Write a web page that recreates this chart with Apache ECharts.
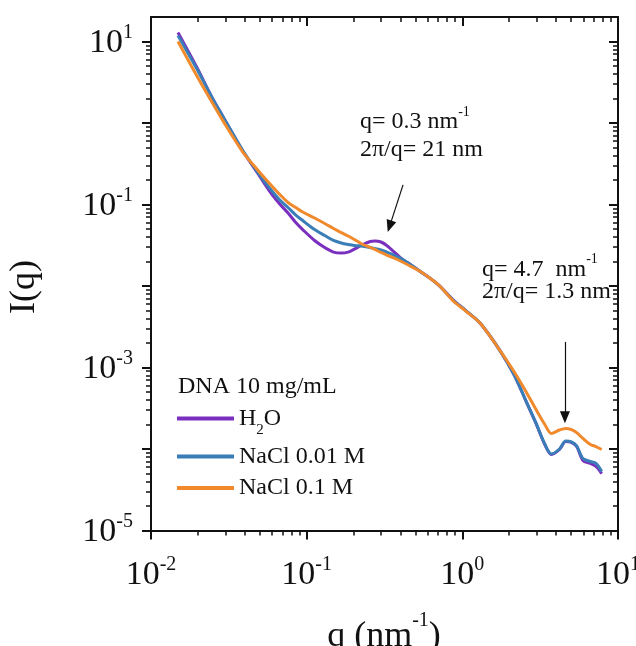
<!DOCTYPE html>
<html>
<head>
<meta charset="utf-8">
<script src="https://cdn.jsdelivr.net/npm/echarts@6/dist/echarts.min.js"></script>
<style>
  html, body { margin: 0; padding: 0; background: #ffffff; }
  #chart { width: 636px; height: 646px; }
</style>
</head>
<body>
<div id="chart"></div>
<script>
// Scattering vector q (nm^-1), shared by all three curves
const q = [0.0149, 0.0198, 0.0245, 0.0292, 0.0387, 0.0481, 0.0574, 0.0667, 0.0759, 0.0851,
  0.0943, 0.1124, 0.1306, 0.1487, 0.1667, 0.1849, 0.2027, 0.2296, 0.2562, 0.2737,
  0.3004, 0.3269, 0.3622, 0.4059, 0.4495, 0.5369, 0.6234, 0.7101, 0.8816, 1.052,
  1.307, 1.729, 2.147, 2.561, 2.974, 3.388, 3.735, 4.206, 4.616, 5.023,
  5.425, 5.955, 6.645, 7.219, 7.857];

// Scattered intensity I(q) for DNA 10 mg/mL
const iH2O = [12.9, 4.73, 2.11, 1.17, 0.460, 0.247, 0.1485, 0.1028, 0.0787, 0.0601,
  0.0493, 0.0362, 0.0297, 0.0261, 0.0254, 0.0261, 0.0284, 0.0323, 0.0352, 0.0357,
  0.0347, 0.0314, 0.0265, 0.0217, 0.0191, 0.01507, 0.01236, 0.01014, 0.00664, 0.00500,
  0.00347, 0.00166, 0.00082, 0.000390, 0.000206, 0.0001135, 0.0000857, 0.0000986, 0.0001236, 0.0001202,
  0.0001073, 0.0000723, 0.0000664, 0.0000610, 0.0000500];

const iNaCl001 = [11.85, 4.53, 2.11, 1.17, 0.466, 0.254, 0.1617, 0.1152, 0.0919, 0.0743,
  0.0636, 0.0493, 0.0417, 0.0362, 0.0337, 0.0323, 0.0314, 0.0308, 0.0297, 0.0288,
  0.0277, 0.0261, 0.0240, 0.0217, 0.0191, 0.0151, 0.0124, 0.0101, 0.0066, 0.0050,
  0.00347, 0.00166, 0.00082, 0.00039, 0.000208, 0.000115, 0.0000870, 0.000100, 0.000125, 0.000122,
  0.000109, 0.0000764, 0.0000703, 0.0000664, 0.0000530];

const iNaCl01 = [10.0, 3.72, 1.84, 1.04, 0.447, 0.269, 0.1836, 0.1346, 0.1059, 0.0919,
  0.0809, 0.0683, 0.0585, 0.0508, 0.0453, 0.0411, 0.0372, 0.0323, 0.0297, 0.0281,
  0.0258, 0.0240, 0.0221, 0.0200, 0.0181, 0.01507, 0.01236, 0.01014, 0.00646, 0.00493,
  0.00347, 0.00166, 0.000893, 0.000508, 0.000305, 0.000200, 0.000155, 0.000171, 0.000179, 0.000173,
  0.000159, 0.0001346, 0.0001135, 0.0001073, 0.0000986];

const seriesNames = ['H2O', 'NaCl 0.01 M', 'NaCl 0.1 M'];
const seriesColors = ['#7b2fbf', '#3a7eb8', '#f08a2c'];

// Axis ticks and labels (decades)
const xLabelTicks = [0.01, 0.1, 1, 10];
const xMajorTicks = [0.01, 0.1, 1, 10];
const yLabelTicks = [10, 0.1, 0.001, 0.00001];
const yMajorTicks = [10, 1, 0.1, 0.01, 0.001, 0.0001, 0.00001];

// Peak annotations: arrow start / arrow head (q, I)
const peakArrows = [
  [[0.416, 0.174], [0.341, 0.054]],
  [[4.56, 0.00206], [4.56, 0.000245]]
];

function minorTicks(eLo, eHi) {
  const out = [];
  for (let e = eLo; e <= eHi; e++) {
    for (let k = 2; k <= 9; k++) out.push(+(k * Math.pow(10, e)).toPrecision(6));
  }
  return out;
}
const xMinorTicks = minorTicks(-2, 0);
const yMinorTicks = minorTicks(-5, 0);

const FONT = '"Liberation Serif", "Times New Roman", serif';
const INK = '#111111';

// "10" with a raised exponent
const powRich = {
  b: { fontFamily: FONT, fontSize: 34, lineHeight: 38, verticalAlign: 'bottom', color: INK },
  s: { fontFamily: FONT, fontSize: 20, lineHeight: 20, verticalAlign: 'top', color: INK }
};
const powLabel = v => '{b|10}{s|' + Math.round(Math.log10(v)) + '}';

function logAxis(dim, opts) {
  const isX = dim === 'x';
  return {
    type: 'log',
    logBase: 10,
    min: isX ? 0.01 : 0.00001,
    max: isX ? 10 : 20,
    position: opts.position,
    axisLine: { show: opts.line, onZero: false, lineStyle: { color: INK, width: 2 } },
    axisTick: {
      show: true,
      inside: opts.inside,
      length: opts.len,
      customValues: opts.ticks,
      lineStyle: { color: INK, width: opts.tickWidth }
    },
    axisLabel: opts.labels ? {
      show: true,
      customValues: opts.labels,
      formatter: powLabel,
      rich: powRich,
      margin: isX ? 24 : 18
    } : { show: false },
    splitLine: { show: false },
    minorTick: { show: false },
    minorSplitLine: { show: false }
  };
}

const supRich = {
  t: { fontFamily: FONT, fontSize: 24, lineHeight: 34, verticalAlign: 'middle', fill: INK },
  u: { fontFamily: FONT, fontSize: 14, lineHeight: 14, verticalAlign: 'top', fill: INK }
};

const chart = echarts.init(document.getElementById('chart'), null, { renderer: 'canvas' });

const legendRich = {
  n: { fontFamily: FONT, fontSize: 24, lineHeight: 39, verticalAlign: 'middle', color: INK },
  sub: { fontFamily: FONT, fontSize: 15, lineHeight: 15, verticalAlign: 'bottom', color: INK },
  p: { fontFamily: FONT, fontSize: 24, lineHeight: 24, color: INK }
};
const legendTops = [406.5, 444.5, 476];

chart.setOption({
  animation: false,
  backgroundColor: '#ffffff',
  textStyle: { fontFamily: FONT, color: INK },
  grid: { left: 151, right: 18, top: 17, bottom: 115.5, containLabel: false, outerBoundsMode: 'none' },
  xAxis: [
    logAxis('x', { position: 'bottom', line: true, inside: false, len: 9, tickWidth: 2, ticks: xMajorTicks, labels: xLabelTicks }),
    logAxis('x', { position: 'bottom', line: false, inside: false, len: 5, tickWidth: 1.5, ticks: xMinorTicks }),
    logAxis('x', { position: 'top', line: true, inside: true, len: 9, tickWidth: 2, ticks: xMajorTicks }),
    logAxis('x', { position: 'top', line: false, inside: true, len: 5, tickWidth: 1.5, ticks: xMinorTicks })
  ],
  yAxis: [
    logAxis('y', { position: 'left', line: true, inside: false, len: 9, tickWidth: 2, ticks: yMajorTicks, labels: yLabelTicks }),
    logAxis('y', { position: 'left', line: false, inside: false, len: 5, tickWidth: 1.5, ticks: yMinorTicks }),
    logAxis('y', { position: 'right', line: true, inside: true, len: 9, tickWidth: 2, ticks: yMajorTicks }),
    logAxis('y', { position: 'right', line: false, inside: true, len: 5, tickWidth: 1.5, ticks: yMinorTicks })
  ],
  legend: seriesNames.map((name, i) => ({
    data: [name],
    left: 177,
    top: legendTops[i],
    padding: 0,
    orient: 'vertical',
    selectedMode: false,
    icon: 'rect',
    itemWidth: 57,
    itemHeight: 4,
    itemStyle: { borderWidth: 0 },
    formatter: n => (n === 'H2O' ? '{n|H}{sub|2}{n|O}' : '{p|' + n + '}'),
    textStyle: { fontFamily: FONT, fontSize: 24, color: INK, rich: legendRich }
  })),
  series: [iH2O, iNaCl001, iNaCl01].map((vals, i) => ({
    name: seriesNames[i],
    type: 'line',
    xAxisIndex: 0,
    yAxisIndex: 0,
    symbol: 'none',
    showSymbol: false,
    smooth: 0.3,
    color: seriesColors[i],
    lineStyle: { width: 3, color: seriesColors[i] },
    data: q.map((x, k) => [x, vals[k]]),
    markLine: i === 2 ? {
      silent: true,
      symbol: ['none', 'triangle'],
      symbolSize: [10, 12],
      label: { show: false },
      lineStyle: { color: INK, width: 1.2, type: 'solid' },
      itemStyle: { color: INK },
      data: peakArrows.map(a => [{ coord: a[0] }, { coord: a[1] }])
    } : undefined
  })),
  graphic: [
    { type: 'text', x: 360, y: 122, style: { text: '{t|q= 0.3 nm}{u|-1}', rich: supRich, verticalAlign: 'middle', align: 'left' } },
    { type: 'text', x: 360, y: 150, style: { text: '2π/q= 21 nm', fontFamily: FONT, fontSize: 24, fill: INK, verticalAlign: 'middle', align: 'left' } },
    { type: 'text', x: 482, y: 269.5, style: { text: '{t|q= 4.7  nm}{u|-1}', rich: supRich, verticalAlign: 'middle', align: 'left' } },
    { type: 'text', x: 482, y: 292, style: { text: '2π/q= 1.3 nm', fontFamily: FONT, fontSize: 24, fill: INK, verticalAlign: 'middle', align: 'left' } },
    { type: 'text', x: 178, y: 387, style: { text: 'DNA 10 mg/mL', fontFamily: FONT, fontSize: 24, fill: INK, verticalAlign: 'middle', align: 'left' } },
    { type: 'text', x: 25, y: 287, rotation: Math.PI / 2, style: { text: 'I(q)', fontFamily: FONT, fontSize: 36, fill: INK, verticalAlign: 'middle', align: 'center' } },
    {
      type: 'text', x: 384, y: 633,
      style: {
        text: '{a|q (nm}{s|-1}{a|)}', align: 'center', verticalAlign: 'middle',
        rich: {
          a: { fontFamily: FONT, fontSize: 36, lineHeight: 44, verticalAlign: 'bottom', fill: INK },
          s: { fontFamily: FONT, fontSize: 20, lineHeight: 20, verticalAlign: 'top', fill: INK }
        }
      }
    }
  ]
});
</script>
</body>
</html>
